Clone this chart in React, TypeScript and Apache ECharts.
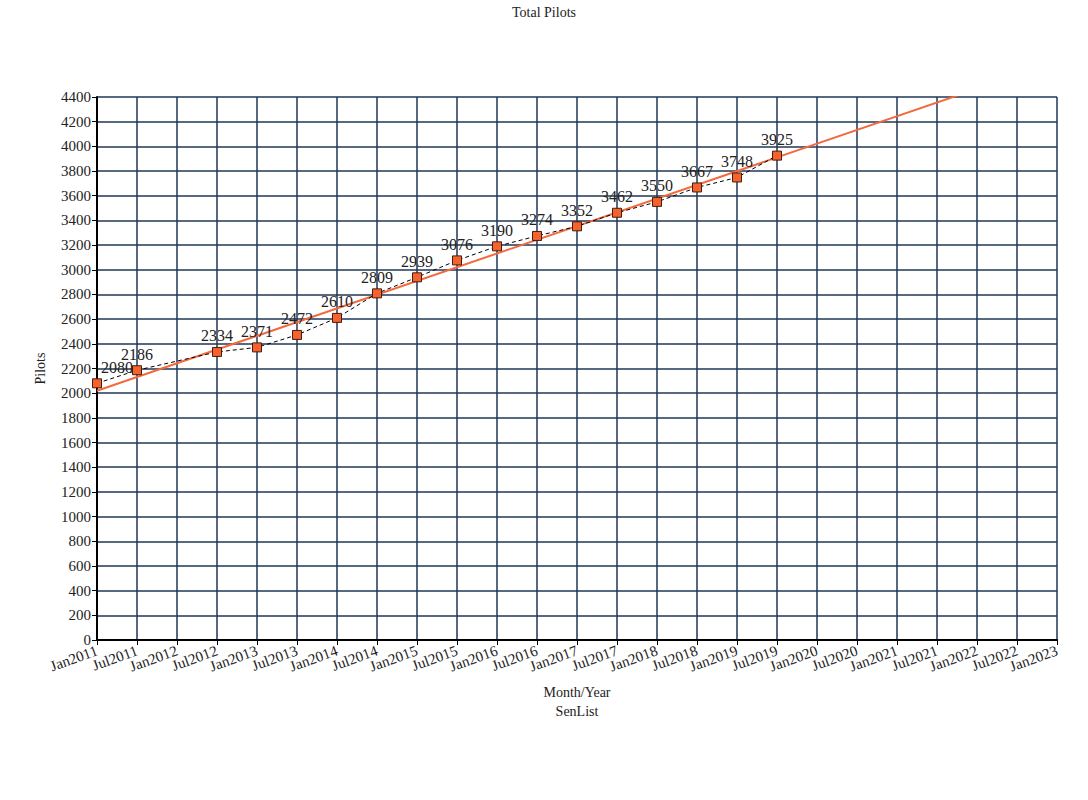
import React, { useEffect, useRef } from "react";
import * as echarts from "echarts";

const categories = [
  "Jan2011", "Jul2011", "Jan2012", "Jul2012", "Jan2013", "Jul2013", "Jan2014", "Jul2014",
  "Jan2015", "Jul2015", "Jan2016", "Jul2016", "Jan2017", "Jul2017", "Jan2018", "Jul2018",
  "Jan2019", "Jul2019", "Jan2020", "Jul2020", "Jan2021", "Jul2021", "Jan2022", "Jul2022", "Jan2023",
];

const pilots: (number | null)[] = [
  2080, 2186, null, 2334, 2371, 2472, 2610, 2809, 2939, 3076, 3190, 3274, 3352, 3462, 3550, 3667,
  3748, 3925, null, null, null, null, null, null, null,
];

// trend line endpoints (Jan2011 and Jan2023)
const trend: (number | null)[] = [
  2020, null, null, null, null, null, null, null, null, null, null, null, null, null, null, null,
  null, null, null, null, null, null, null, null, 4689,
];

const FONT = "'Liberation Serif', 'DejaVu Serif', serif";

export default function App() {
  const ref = useRef<HTMLDivElement>(null);
  useEffect(() => {
    if (!ref.current) return;
    const chart = echarts.init(ref.current, undefined, { renderer: "svg" });
    const pilotData = pilots.map((v, i) =>
      i === 0 && v !== null ? { value: v, label: { offset: [20, 0] } } : v
    );
    chart.setOption({
      animation: false,
      backgroundColor: "#ffffff",
      textStyle: { fontFamily: FONT },
      title: {
        text: "Total Pilots",
        left: "center",
        top: 0,
        textStyle: { fontFamily: FONT, fontSize: 14, fontWeight: "normal", color: "#222" },
      },
      grid: { left: 97, right: 31, top: 97, bottom: 160, containLabel: false },
      xAxis: {
        type: "category",
        data: categories,
        boundaryGap: false,
        name: "Month/Year\nSenList",
        nameLocation: "middle",
        nameGap: 43,
        nameTextStyle: { fontFamily: FONT, fontSize: 14, color: "#222", lineHeight: 19 },
        axisLine: { show: true, lineStyle: { color: "#000", width: 2 } },
        axisTick: { show: true, alignWithLabel: true, length: 5, lineStyle: { color: "#000" } },
        axisLabel: {
          interval: 0,
          rotate: 20,
          fontFamily: FONT,
          fontSize: 15,
          color: "#222",
          margin: 10,
        },
        splitLine: { show: true, lineStyle: { color: "#1f3756", width: 1.5 } },
      },
      yAxis: {
        type: "value",
        min: 0,
        max: 4400,
        interval: 200,
        name: "Pilots",
        nameLocation: "middle",
        nameGap: 50,
        nameTextStyle: { fontFamily: FONT, fontSize: 14, color: "#222" },
        axisLine: { show: true, lineStyle: { color: "#000", width: 2 } },
        axisTick: { show: true, length: 5, lineStyle: { color: "#000" } },
        axisLabel: {
          fontFamily: FONT,
          fontSize: 15,
          color: "#222",
          margin: 6,
          formatter: (v: number) => String(v),
        },
        splitLine: { show: true, lineStyle: { color: "#1f3756", width: 1.5 } },
      },
      series: [
        {
          name: "Trend",
          type: "line",
          data: trend,
          connectNulls: true,
          showSymbol: false,
          symbol: "none",
          clip: true,
          lineStyle: { color: "#f26a3d", width: 2 },
          z: 3,
        },
        {
          name: "Pilots",
          type: "line",
          data: pilotData,
          connectNulls: true,
          symbol: "rect",
          symbolSize: 9,
          itemStyle: { color: "#f4622d", borderColor: "#4a1c0c", borderWidth: 1 },
          lineStyle: { color: "#000", width: 1, type: [4, 3] },
          label: {
            show: true,
            position: "top",
            distance: 3,
            fontFamily: FONT,
            fontSize: 16,
            color: "#222",
          },
          z: 4,
        },
      ],
    });
    return () => chart.dispose();
  }, []);
  return (
    <div
      ref={ref}
      style={{ position: "fixed", left: 0, top: 0, width: 1088, height: 800, background: "#fff" }}
    />
  );
}
